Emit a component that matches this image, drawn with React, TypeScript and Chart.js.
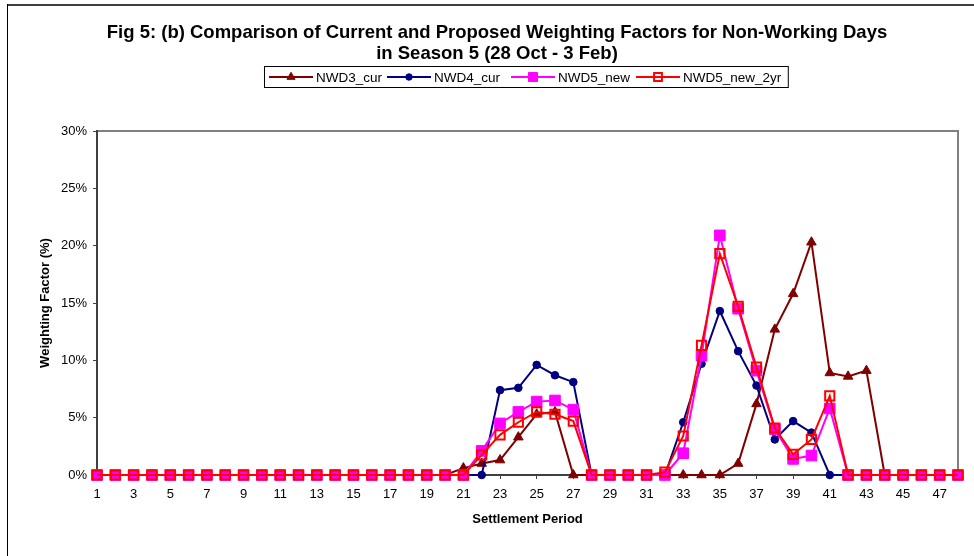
import { useEffect, useRef } from 'react';
import { Chart, registerables } from 'chart.js';

Chart.register(...registerables);

const TITLE_LINES = [
  'Fig 5: (b) Comparison of Current and Proposed Weighting Factors for Non-Working Days',
  'in Season 5 (28 Oct - 3 Feb)',
];
const X_TITLE = 'Settlement Period';
const Y_TITLE = 'Weighting Factor (%)';

const periods = [
  '1', '2', '3', '4', '5', '6', '7', '8', '9', '10', '11', '12',
  '13', '14', '15', '16', '17', '18', '19', '20', '21', '22', '23', '24',
  '25', '26', '27', '28', '29', '30', '31', '32', '33', '34', '35', '36',
  '37', '38', '39', '40', '41', '42', '43', '44', '45', '46', '47', '48',
];

const nwd3Cur = [
  0, 0, 0, 0, 0, 0, 0, 0, 0, 0, 0, 0, 0, 0, 0, 0, 0, 0, 0, 0,
  0.6, 1.0, 1.3, 3.3, 5.3, 5.5, 0,
  0, 0, 0, 0, 0, 0, 0, 0,
  1.0, 6.2, 12.7, 15.8, 20.3, 8.9, 8.6, 9.1,
  0, 0, 0, 0, 0,
];

const nwd4Cur = [
  0, 0, 0, 0, 0, 0, 0, 0, 0, 0, 0, 0, 0, 0, 0, 0, 0, 0, 0, 0, 0, 0,
  7.4, 7.6, 9.6, 8.7, 8.1,
  0, 0, 0, 0, 0,
  4.6, 9.7, 14.3, 10.8, 7.8, 3.1, 4.7, 3.7,
  0, 0, 0, 0, 0, 0, 0, 0,
];

const nwd5New = [
  0, 0, 0, 0, 0, 0, 0, 0, 0, 0, 0, 0, 0, 0, 0, 0, 0, 0, 0, 0, 0,
  2.1, 4.5, 5.5, 6.4, 6.5, 5.7,
  0, 0, 0, 0, 0,
  1.9, 10.4, 20.9, 14.5, 9.1, 4.0, 1.4, 1.7, 5.8,
  0, 0, 0, 0, 0, 0, 0,
];

const nwd5New2yr = [
  0, 0, 0, 0, 0, 0, 0, 0, 0, 0, 0, 0, 0, 0, 0, 0, 0, 0, 0, 0, 0,
  1.75, 3.5, 4.6, 5.5, 5.3, 4.7,
  0, 0, 0, 0,
  0.25, 3.4, 11.3, 19.3, 14.7, 9.4, 4.1, 1.8, 3.1, 6.9,
  0, 0, 0, 0, 0, 0, 0,
];

const FONT = '"Liberation Sans", Arial, Helvetica, sans-serif';

type SeriesStyle = {
  label: string;
  data: number[];
  color: string;
  style: string;
  radius: number;
  fill: string;
  pointBorder: number;
  order: number;
};

const seriesList: SeriesStyle[] = [
  { label: 'NWD3_cur', data: nwd3Cur, color: '#800000', style: 'triangle', radius: 5.5, fill: '#800000', pointBorder: 1, order: 4 },
  { label: 'NWD4_cur', data: nwd4Cur, color: '#000080', style: 'circle', radius: 3.8, fill: '#000080', pointBorder: 1, order: 3 },
  { label: 'NWD5_new', data: nwd5New, color: '#FF00FF', style: 'rect', radius: 7.5, fill: '#FF00FF', pointBorder: 1, order: 2 },
  { label: 'NWD5_new_2yr', data: nwd5New2yr, color: '#FF0000', style: 'rect', radius: 6.5, fill: 'rgba(0,0,0,0)', pointBorder: 2, order: 1 },
];

// legend item line starts (layout)
const LEGEND_X = [269, 387, 511, 636];

function drawMarker(ctx: CanvasRenderingContext2D, s: SeriesStyle, x: number, y: number, scale: number) {
  const r = s.radius * scale;
  ctx.save();
  ctx.fillStyle = s.fill;
  ctx.strokeStyle = s.color;
  ctx.lineWidth = s.pointBorder;
  ctx.beginPath();
  if (s.style === 'triangle') {
    ctx.moveTo(x, y - r);
    ctx.lineTo(x + r * Math.sin(Math.PI / 3), y + r / 2);
    ctx.lineTo(x - r * Math.sin(Math.PI / 3), y + r / 2);
    ctx.closePath();
  } else if (s.style === 'circle') {
    ctx.arc(x, y, r, 0, Math.PI * 2);
  } else {
    const h = r * Math.SQRT1_2;
    ctx.rect(x - h, y - h, 2 * h, 2 * h);
  }
  ctx.fill();
  ctx.stroke();
  ctx.restore();
}

const decorPlugin = {
  id: 'decor',
  beforeDraw(chart: any) {
    const ctx: CanvasRenderingContext2D = chart.ctx;
    const W = chart.width;
    const H = chart.height;
    ctx.save();
    ctx.fillStyle = '#ffffff';
    ctx.fillRect(0, 0, W, H);

    // outer chart frame (partly cropped)
    ctx.strokeStyle = '#404040';
    ctx.lineWidth = 2;
    ctx.beginPath();
    ctx.moveTo(7, 5);
    ctx.lineTo(W, 5);
    ctx.stroke();
    ctx.strokeStyle = '#000000';
    ctx.lineWidth = 1;
    ctx.beginPath();
    ctx.moveTo(7.5, 4);
    ctx.lineTo(7.5, H);
    ctx.stroke();

    // title
    ctx.fillStyle = '#000000';
    ctx.font = `bold 18.5px ${FONT}`;
    ctx.textAlign = 'center';
    ctx.textBaseline = 'middle';
    TITLE_LINES.forEach((t, i) => ctx.fillText(t, 497, 33 + i * 21));

    // legend
    ctx.font = `13.5px ${FONT}`;
    ctx.textAlign = 'left';
    const ly = 77;
    let lastEnd = 0;
    seriesList.forEach((s, i) => {
      const x = LEGEND_X[i];
      ctx.strokeStyle = s.color;
      ctx.lineWidth = 2;
      ctx.beginPath();
      ctx.moveTo(x, ly);
      ctx.lineTo(x + 44, ly);
      ctx.stroke();
      drawMarker(ctx, s, x + 22, ly, 0.85);
      ctx.fillStyle = '#000000';
      ctx.fillText(s.label, x + 47, ly + 1);
      lastEnd = x + 47 + ctx.measureText(s.label).width;
    });
    ctx.strokeStyle = '#000000';
    ctx.lineWidth = 1;
    ctx.strokeRect(264.5, 66.5, Math.max(lastEnd + 7, 785.5) - 264.5, 21);

    // plot frame top/right
    const a = chart.chartArea;
    ctx.strokeStyle = '#808080';
    ctx.lineWidth = 2;
    ctx.beginPath();
    ctx.moveTo(a.left, a.top);
    ctx.lineTo(a.right, a.top);
    ctx.lineTo(a.right, a.bottom);
    ctx.stroke();
    ctx.restore();
  },
};

export default function App() {
  const canvasRef = useRef<HTMLCanvasElement | null>(null);

  useEffect(() => {
    document.body.style.margin = '0';
    const canvas = canvasRef.current;
    if (!canvas) return;

    const chart = new Chart(canvas, {
      type: 'line',
      data: {
        labels: periods,
        datasets: seriesList.map((s) => ({
          label: s.label,
          data: s.data,
          borderColor: s.color,
          backgroundColor: s.color,
          borderWidth: 2,
          tension: 0,
          fill: false,
          pointStyle: s.style as any,
          pointRadius: s.radius,
          pointBackgroundColor: s.fill,
          pointBorderColor: s.color,
          pointBorderWidth: s.pointBorder,
          order: s.order,
          clip: false as any,
        })),
      },
      options: {
        responsive: false,
        animation: false,
        devicePixelRatio: 1,
        events: [],
        layout: { padding: { left: 0, right: 16, top: 131, bottom: 0 } },
        plugins: {
          legend: { display: false },
          title: { display: false },
          tooltip: { enabled: false },
        },
        scales: {
          x: {
            type: 'category',
            offset: false,
            afterFit: (s: any) => {
              s.height = 81;
            },
            grid: {
              drawOnChartArea: false,
              drawTicks: true,
              tickLength: 4,
              tickWidth: 1,
              tickColor: (c: any) => (c.index % 2 === 0 ? '#404040' : 'rgba(0,0,0,0)'),
            },
            border: { display: true, color: '#404040', width: 2 },
            ticks: {
              autoSkip: false,
              maxRotation: 0,
              minRotation: 0,
              padding: 8,
              color: '#000000',
              font: { family: FONT, size: 13 },
              callback: (_v: any, i: number) => (i % 2 === 0 ? periods[i] : ''),
            },
            title: {
              display: true,
              text: X_TITLE,
              color: '#000000',
              font: { family: FONT, size: 13, weight: 'bold' },
              padding: { top: 0, bottom: 29 },
            },
          },
          y: {
            min: 0,
            max: 30,
            afterFit: (s: any) => {
              s.width = 97;
            },
            grid: {
              drawOnChartArea: false,
              drawTicks: true,
              tickLength: 4,
              tickColor: '#404040',
            },
            border: { display: true, color: '#404040', width: 2 },
            ticks: {
              stepSize: 5,
              padding: 6,
              color: '#000000',
              font: { family: FONT, size: 13 },
              callback: (v: any) => `${v}%`,
            },
            title: {
              display: true,
              text: Y_TITLE,
              color: '#000000',
              font: { family: FONT, size: 13, weight: 'bold' },
              padding: { top: 38, bottom: 0 },
            },
          },
        },
      } as any,
      plugins: [decorPlugin],
    });

    return () => {
      chart.destroy();
    };
  }, []);

  return (
    <div style={{ width: 974, height: 556 }}>
      <canvas ref={canvasRef} width={974} height={556} style={{ display: 'block' }} />
    </div>
  );
}
